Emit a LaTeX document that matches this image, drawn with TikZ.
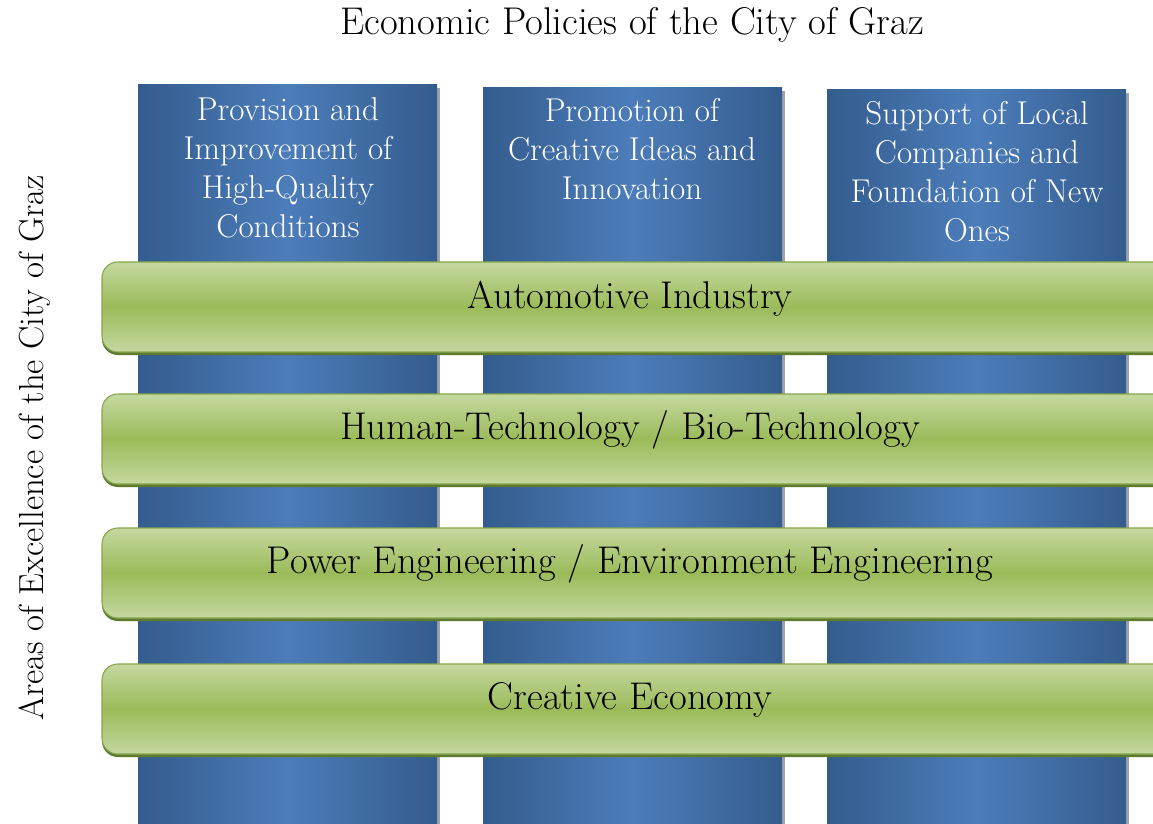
\documentclass[tikz,border=0pt]{standalone}
\usetikzlibrary{positioning}

\definecolor{pillaredge}{HTML}{345C8E}
\definecolor{pillarmid}{HTML}{4C7DBA}
\definecolor{pillarshade}{HTML}{9AA3AE}
\definecolor{barlight}{HTML}{C4D9A0}
\definecolor{barmid}{HTML}{9BBB59}
\definecolor{barline}{HTML}{86A54B}
\definecolor{barshadow}{HTML}{5E7A2E}

\tikzset{
  pillar/.style={left color=pillaredge, right color=pillaredge, middle color=pillarmid},
  pillartext/.style={anchor=north, align=center, text=white, inner sep=0pt,
    font=\fontsize{18.8}{22.2}\selectfont},
  barbody/.style={rounded corners=9pt, top color=barlight, bottom color=barlight,
    middle color=barmid, draw=barline, line width=0.6pt},
  bartext/.style={font=\fontsize{22}{26}\selectfont, text=black},
}

\begin{document}
\begin{tikzpicture}[x=0.02cm, y=-0.02cm]
			\coordinate (topleft) at (0, 0);
			\coordinate (bottomright) at (1153, 824);
			
			\useasboundingbox (topleft) rectangle (bottomright);
			\clip (topleft) rectangle (bottomright);
			\fill[white] (topleft) rectangle (bottomright);
			
			% title and side label
			\node[font=\fontsize{22}{26}\selectfont] (title) at (632, 25) {Economic Policies of the City of Graz};
			\node[font=\fontsize{19.8}{24}\selectfont, rotate=90] (areas) at (35, 448) {Areas of Excellence of the City of Graz};
			
			% pillars
			\foreach \x/\y in {138/85, 483/88, 827/90}{
				\fill[pillarshade] (\x+3, \y+3) rectangle (\x+302, 830);
				\shade[pillar] (\x, \y) rectangle (\x+299, 830);
			}
			\node[pillartext] (pol1) at (288, 97) {Provision and\\Improvement of\\High-Quality\\Conditions};
			\node[pillartext] (pol2) at (632, 98) {Promotion of\\Creative Ideas and\\Innovation};
			\node[pillartext] (pol3) at (977, 101) {Support of Local\\Companies and\\Foundation of New\\Ones};
			
			% bars
			\foreach \y in {262, 394, 528, 664}{
				\fill[barshadow, rounded corners=9pt] (102, \y+3) rectangle (1175, \y+93);
				\shade[barbody] (102, \y) rectangle (1175, \y+90);
			}
			\node[bartext] (area1) at (630, 299) {Automotive Industry};
			\node[bartext] (area2) at (630, 430) {Human-Technology / Bio-Technology};
			\node[bartext] (area3) at (630, 564) {Power Engineering / Environment Engineering};
			\node[bartext] (area4) at (630, 700) {Creative Economy};
			
		\end{tikzpicture}
\end{document}
